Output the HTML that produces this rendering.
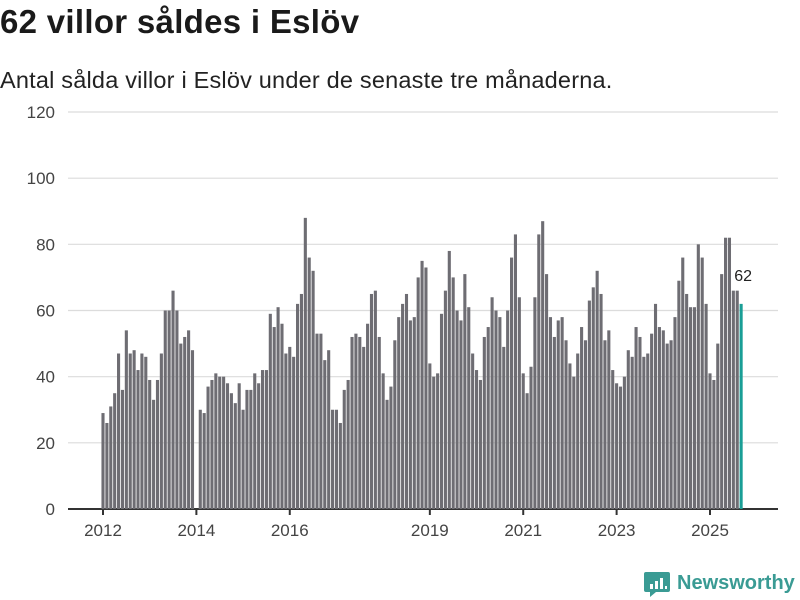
<!DOCTYPE html>
<html><head><meta charset="utf-8">
<style>
body{margin:0;background:#fff;font-family:"Liberation Sans","DejaVu Sans",sans-serif;}
#wrap{position:relative;width:800px;height:600px;overflow:hidden;}
h1{position:absolute;left:0;top:3px;margin:0;font-size:33px;font-weight:bold;color:#1a1a1a;letter-spacing:0.3px;}
p.sub{position:absolute;left:0;top:67px;margin:0;font-size:23.5px;color:#222;letter-spacing:0.2px;}
svg{position:absolute;left:0;top:0;}
</style></head><body>
<div id="wrap">
<h1>62 villor såldes i Eslöv</h1>
<p class="sub">Antal sålda villor i Eslöv under de senaste tre månaderna.</p>
<svg id="chart" width="800" height="600"></svg>
</div>
<script>
const startYear = 2012;
const values = [
29,26,31,35,47,36,54,47,48,42,47,46,
39,33,39,47,60,60,66,60,50,52,54,48,
null,30,29,37,39,41,40,40,38,35,32,38,
30,36,36,41,38,42,42,59,55,61,56,47,
49,46,62,65,88,76,72,53,53,45,48,30,
30,26,36,39,52,53,52,49,56,65,66,52,
41,33,37,51,58,62,65,57,58,70,75,73,
44,40,41,59,66,78,70,60,57,71,61,47,
42,39,52,55,64,60,58,49,60,76,83,64,
41,35,43,64,83,87,71,58,52,57,58,51,
44,40,47,55,51,63,67,72,65,51,54,42,
38,37,40,48,46,55,52,46,47,53,62,55,
54,50,51,58,69,76,65,61,61,80,76,62,
41,39,50,71,82,82,66,66,62
];
const yTicks = [0,20,40,60,80,100,120];
const xTickYears = [2012,2014,2016,2019,2021,2023,2025];

const NS="http://www.w3.org/2000/svg";
const svg=document.getElementById('chart');
const x0=103, monthW=3.891, yBase=509, yTop=112, yMax=120;
function xScale(i){return x0+i*monthW;}
function yScale(v){return yBase-(v/yMax)*(yBase-yTop);}
function mk(t,a){const e=document.createElementNS(NS,t);for(const k in a)e.setAttribute(k,a[k]);svg.appendChild(e);return e;}

yTicks.forEach(t=>{
  const g=mk('line',{x1:68,x2:778,y1:yScale(t),y2:yScale(t),stroke:t===0?'#333':'#dcdcdc','stroke-width':t===0?2:1.2});
  
  
  const l=mk('text',{x:55,y:yScale(t)+6,'text-anchor':'end','font-size':17,fill:'#444','font-family':'Liberation Sans, sans-serif'});
  l.textContent=t;
  
  
});

const last=values.length-1;
values.forEach((v,i)=>{
  if(v===null)return;
  const b=mk('rect',{x:xScale(i)-1.55,y:yScale(v),width:3.1,height:yBase-yScale(v),fill:i===last?'#1a9e96':'#6e6d73'});
  
  
});
const lbl=mk('text',{x:xScale(last)+2,y:yScale(values[last])-23,'text-anchor':'middle','font-size':16,fill:'#222','font-family':'Liberation Sans, sans-serif',stroke:'#fff','stroke-width':3,'paint-order':'stroke'});
lbl.textContent=values[last];



xTickYears.forEach(yr=>{
  const xi=xScale((yr-startYear)*12);
  const tk=mk('line',{x1:xi,x2:xi,y1:yBase,y2:yBase+6,stroke:'#333','stroke-width':2});
  
  
  const t=mk('text',{x:xi,y:536,'text-anchor':'middle','font-size':17,fill:'#444','font-family':'Liberation Sans, sans-serif'});
  t.textContent=yr;
  
  
});

const lg=mk('g',{});


const icon=document.createElementNS(NS,'path');
icon.setAttribute('d','M646 572 h22 a2 2 0 0 1 2 2 v16 a2 2 0 0 1 -2 2 h-12 l-6 5 v-5 h-4 a2 2 0 0 1 -2 -2 v-16 a2 2 0 0 1 2 -2z');
icon.setAttribute('fill','#3a9b94');
lg.appendChild(icon);
[[650,584,3,5],[655,581,3,8],[660,578,3,11],[665,586,2,3]].forEach(r=>{
  const e=document.createElementNS(NS,'rect');
  e.setAttribute('x',r[0]);e.setAttribute('y',r[1]);e.setAttribute('width',r[2]);e.setAttribute('height',r[3]);e.setAttribute('fill','#fff');
  lg.appendChild(e);
});
const lt=document.createElementNS(NS,'text');
lt.setAttribute('x',677);lt.setAttribute('y',589);lt.setAttribute('font-size',20);lt.setAttribute('font-weight','bold');
lt.setAttribute('fill','#3a9b94');lt.setAttribute('font-family','Liberation Sans, sans-serif');
lt.textContent='Newsworthy';
lg.appendChild(lt);
</script>
</body></html>
